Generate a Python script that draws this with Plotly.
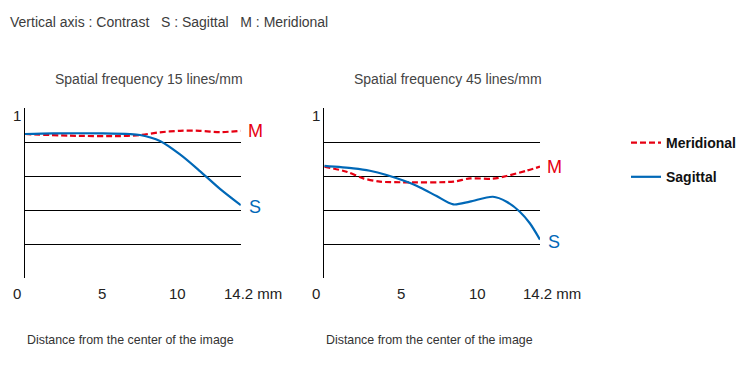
import plotly.graph_objects as go

# ---- data ----
x15_s = [0, 1.86, 5.15, 6.9, 7.57, 8.88, 10.2, 11.51, 12.83, 14.2]
s15 = [0.847, 0.851, 0.851, 0.847, 0.841, 0.806, 0.727, 0.629, 0.524, 0.428]
x15_m = [0, 2.96, 6.25, 7.57, 8.88, 10.2, 11.5, 12.83, 14.2]
m15 = [0.847, 0.837, 0.835, 0.841, 0.857, 0.866, 0.866, 0.858, 0.866]

x45_s = [0, 1.91, 3.0, 4.1, 5.2, 6.3, 7.39, 8.49, 9.58, 11.1, 12.0, 12.87, 13.53, 14.2]
s45 = [0.659, 0.645, 0.631, 0.606, 0.573, 0.533, 0.482, 0.433, 0.449, 0.478, 0.449, 0.390, 0.322, 0.226]
x45_m = [0, 1.47, 2.57, 3.66, 5.2, 8.5, 9.6, 11.1, 12.0, 13.3, 14.2]
m45 = [0.655, 0.625, 0.586, 0.567, 0.563, 0.567, 0.586, 0.584, 0.600, 0.631, 0.655]

tick_vals = [0, 5, 10, 14.2]
tick_text = ["0", "5", "10", "14.2 mm"]
grid_vals = [0.2, 0.4, 0.6, 0.8]

titles = ["Spatial frequency 15 lines/mm", "Spatial frequency 45 lines/mm"]
header = "Vertical axis : Contrast   S : Sagittal   M : Meridional"
xlabel = "Distance from the center of the image"

RED = "#e60012"
BLUE = "#0068b7"
FONT = "Liberation Sans, Arial, sans-serif"

# the page body has an 8px default margin; lay out in window pixels and convert
OFF = 8
W, H = 755 - OFF, 365 - OFF
def px(x):
    return (x - OFF) / W
def py(y):
    return 1 - (y - OFF) / H

fig = go.Figure()

panels = [
    (x15_s, s15, x15_m, m15, "x", "y"),
    (x45_s, s45, x45_m, m45, "x2", "y2"),
]

for i, (xs, ys, xm, ym, xa, ya) in enumerate(panels):
    fig.add_trace(go.Scatter(x=xm, y=ym, mode="lines", name="Meridional",
                             line=dict(color=RED, width=2.2, dash="6px,3px", shape="spline", smoothing=0.8),
                             xaxis=xa, yaxis=ya, showlegend=(i == 0), legendgroup="m",
                             hoverinfo="skip"))
    fig.add_trace(go.Scatter(x=xs, y=ys, mode="lines", name="Sagittal",
                             line=dict(color=BLUE, width=2.2, shape="spline", smoothing=0.8),
                             xaxis=xa, yaxis=ya, showlegend=(i == 0), legendgroup="s",
                             hoverinfo="skip"))

axis_common_x = dict(range=[0, 14.2], showgrid=False, zeroline=False, showline=False,
                     showticklabels=False, ticks="", fixedrange=True)
axis_common_y = dict(range=[0, 1], tickvals=grid_vals, showgrid=True, gridcolor="#000000",
                     gridwidth=1, zeroline=False, showline=True, linecolor="#000000",
                     linewidth=1, showticklabels=False, ticks="", fixedrange=True,
                     domain=[py(278), py(108)])

fig.update_layout(
    width=W, height=H,
    margin=dict(l=0, r=0, t=0, b=0),
    paper_bgcolor="white", plot_bgcolor="white",
    font=dict(family=FONT, color="#333333"),
    xaxis=dict(axis_common_x, domain=[px(25), px(240.8)]),
    yaxis=dict(axis_common_y, anchor="x"),
    xaxis2=dict(axis_common_x, domain=[px(324.3), px(540)], anchor="y2"),
    yaxis2=dict(axis_common_y, anchor="x2"),
    legend=dict(x=px(626), y=py(127), xanchor="left", yanchor="top",
                font=dict(size=14, color="#111111", family=FONT, weight="bold"),
                tracegroupgap=13, itemwidth=30, bgcolor="rgba(0,0,0,0)"),
    showlegend=True,
)

ann = []
ann.append(dict(text=header, xref="paper", yref="paper", x=px(8), y=py(22.5),
                xanchor="left", yanchor="middle", showarrow=False,
                font=dict(size=14, color="#3c3c3c")))
centers = [(25 + 240.8) / 2, (324.3 + 540) / 2]
for i, (xa, ya) in enumerate([("x", "y"), ("x2", "y2")]):
    ann.append(dict(text=titles[i], xref="paper", yref="paper", x=px(centers[i] + 16), y=py(79.5),
                    xanchor="center", yanchor="middle", showarrow=False,
                    font=dict(size=14, color="#444444")))
    ann.append(dict(text=xlabel, xref=xa + " domain", yref="paper", x=0, xshift=0, y=py(339.5),
                    xanchor="left", yanchor="middle", showarrow=False,
                    font=dict(size=12.4, color="#333333")))
    ann.append(dict(text="1", xref=xa, yref=ya, x=0, y=1, xshift=-8, yshift=-7,
                    xanchor="center", yanchor="middle", showarrow=False,
                    font=dict(size=15, color="#222222")))
    for v, t in zip(tick_vals, tick_text):
        if t == "0":
            a = dict(x=v, xanchor="center", xshift=-8)
        elif v == tick_vals[-1]:
            a = dict(x=v, xanchor="left", xshift=-19)
        else:
            a = dict(x=v, xanchor="center", xshift=1)
        ann.append(dict(text=t, xref=xa, yref="paper", y=py(293.5), yanchor="middle",
                        showarrow=False, font=dict(size=15, color="#222222"), **a))
# end labels M / S
ends = [(m15[-1], s15[-1]), (m45[-1], s45[-1])]
for i, (xa, ya) in enumerate([("x", "y"), ("x2", "y2")]):
    mv, sv = ends[i]
    ann.append(dict(text="M", xref=xa, yref=ya, x=14.2, y=mv, xanchor="left", xshift=5,
                    yanchor="middle", yshift=0, showarrow=False,
                    font=dict(size=18, color=RED)))
    ann.append(dict(text="S", xref=xa, yref=ya, x=14.2, y=sv, xanchor="left", xshift=6,
                    yanchor="middle", yshift=-2, showarrow=False,
                    font=dict(size=18, color=BLUE)))

fig.update_layout(annotations=ann)
fig.write_html("out.html")
